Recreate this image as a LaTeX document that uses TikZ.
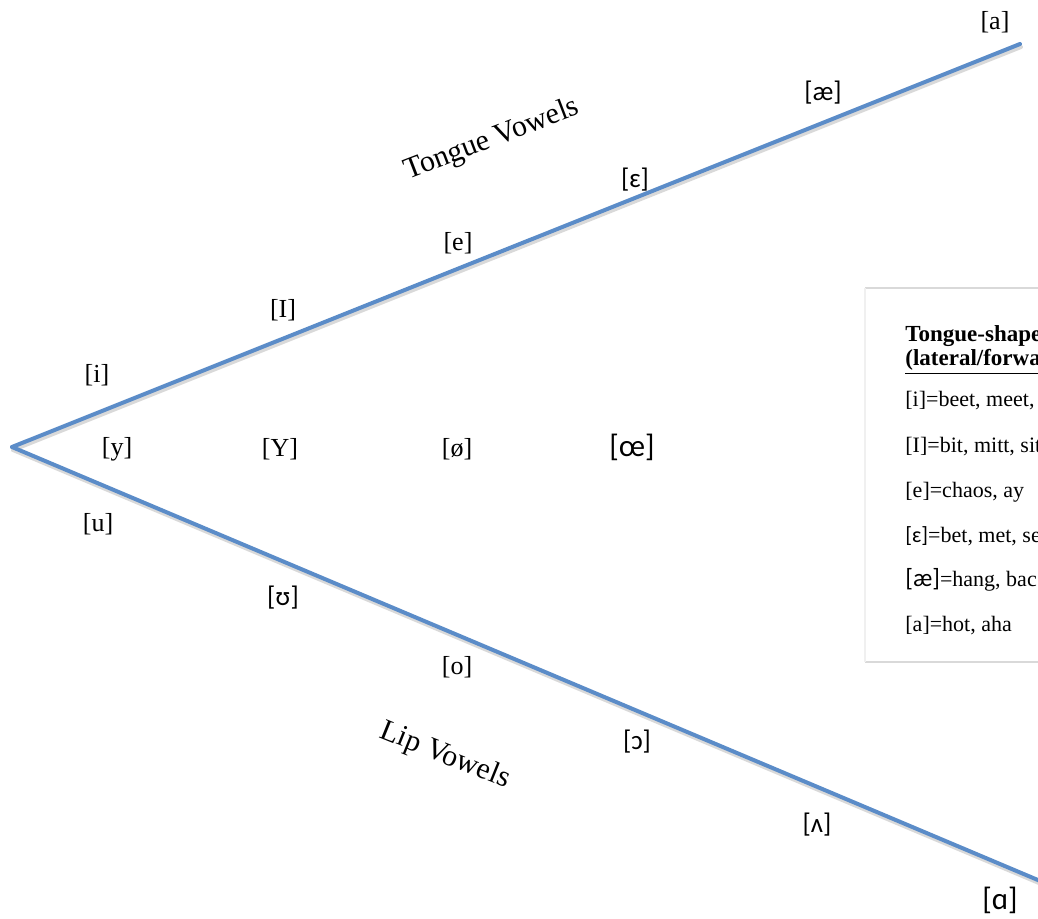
\documentclass[tikz,border=0pt]{standalone}
\usepackage{fontspec}
\setmainfont{Liberation Serif}
\newfontfamily\ipasans{Carlito}
\usetikzlibrary{positioning,calc}

\definecolor{linkblue}{RGB}{91,140,200}
\tikzset{
  axis/.style={draw=linkblue, line width=2pt, line cap=round},
  axisshadow/.style={draw=black!15, line width=2pt, line cap=round},
  vowel/.style={inner sep=1pt, font=\fontsize{13}{15}\selectfont},
  ipavowel/.style={inner sep=1pt, font=\fontsize{13.5}{15}\selectfont\ipasans},
  tract/.style={inner sep=1pt, font=\fontsize{15}{17}\selectfont},
  keyline/.style={anchor=west, inner sep=1pt, font=\fontsize{11}{13}\selectfont},
}

\begin{document}
\begin{tikzpicture}[x=0.5pt, y=-0.5pt]
  \useasboundingbox (0,0) rectangle (1038,919);

  % the two arms
  \coordinate (apex) at (12,447);
  \coordinate (tongueend) at (1020,44);
  \coordinate (lipend) at (1045,883);
  \draw[axisshadow] ($(apex)+(1,3)$) -- ($(tongueend)+(1,3)$);
  \draw[axisshadow] ($(apex)+(1,3)$) -- ($(lipend)+(1,3)$);
  \draw[axis] (apex) -- (tongueend);
  \draw[axis] (apex) -- (lipend);

  % tongue vowels
  \node[vowel] (va) at (995,22) {[a]};
  \node[ipavowel] (vae) at (823,93) {[æ]};
  \node[ipavowel] (veps) at (635,180) {[ɛ]};
  \node[vowel] (ve) at (458,243) {[e]};
  \node[vowel] (vI) at (283,310) {[I]};
  \node[vowel] (vi) at (97,375) {[i]};
  \node[tract, rotate=21] (tongue) at (492,140) {Tongue Vowels};

  % rounded middle row
  \node[vowel] (vy) at (117,449) {[y]};
  \node[vowel] (vY) at (280,449) {[Y]};
  \node[vowel] (voslash) at (457,449) {[ø]};
  \node[ipavowel, font=\fontsize{15.5}{17}\selectfont\ipasans] (voe) at (632,447) {[œ]};

  % lip vowels
  \node[vowel] (vu) at (98,524) {[u]};
  \node[ipavowel] (vups) at (283,598) {[ʊ]};
  \node[vowel] (vo) at (457,667) {[o]};
  \node[ipavowel] (vopen) at (637,742) {[ɔ]};
  \node[ipavowel] (vwedge) at (817,825) {[ʌ]};
  \node[ipavowel, font=\fontsize{15.5}{17}\selectfont\ipasans] (valpha) at (1000,900) {[ɑ]};
  \node[tract, rotate=-22] (lip) at (445,756) {Lip Vowels};

  % key box, cut off at the right edge
  \begin{scope}
    \clip (0,0) rectangle (1038,919);
    \draw[black!15, line width=0.6pt] (865,288) -- (1060,288);
    \draw[black!15, line width=0.6pt] (865,662) -- (1060,662);
    \draw[black!6, line width=0.6pt] (865,288) -- (865,662);
    \node[keyline, font=\fontsize{11.5}{13}\selectfont\bfseries] (keyhead) at (903,336) {Tongue-shaped};
    \node[keyline, font=\fontsize{11.5}{13}\selectfont\bfseries] (keysub) at (903,362) {\underline{(lateral/forward}};
    \node[keyline] (key1) at (903,401) {[i]=beet, meet,};
    \node[keyline] (key2) at (903,447) {[I]=bit, mitt, sit};
    \node[keyline] (key3) at (903,492) {[e]=chaos, ay};
    \node[keyline] (key4) at (903,536) {{\ipasans[ɛ]}=bet, met, se};
    \node[keyline] (key5) at (903,580) {{\ipasans\fontsize{12.5}{14}\selectfont[æ]}=hang, bac};
    \node[keyline] (key6) at (903,626) {[a]=hot, aha};
  \end{scope}
\end{tikzpicture}
\end{document}
